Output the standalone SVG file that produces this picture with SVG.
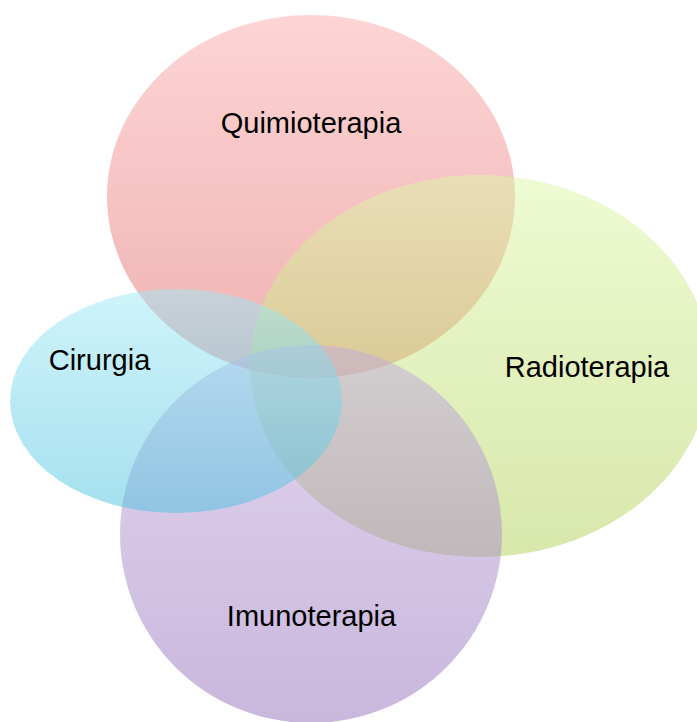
<svg xmlns="http://www.w3.org/2000/svg" width="697" height="722" viewBox="0 0 697 722">
<style>
.set{fill-opacity:0.5;stroke:none}
.lbl{font-family:"Liberation Sans",Arial,sans-serif;font-size:29px;fill:#000;text-anchor:middle}
</style>
<defs>
<linearGradient id="gRed" x1="0" y1="0" x2="0" y2="1"><stop offset="0" stop-color="#fbaaaa"/><stop offset="1" stop-color="#df6464"/></linearGradient>
<linearGradient id="gGreen" x1="0" y1="0" x2="0" y2="1"><stop offset="0" stop-color="#ddf7a7"/><stop offset="1" stop-color="#b1cf55"/></linearGradient>
<linearGradient id="gPurple" x1="0" y1="0" x2="0" y2="1"><stop offset="0" stop-color="#c3abdf"/><stop offset="1" stop-color="#936fba"/></linearGradient>
<linearGradient id="gCyan" x1="0" y1="0" x2="0" y2="1"><stop offset="0" stop-color="#9fe9f7"/><stop offset="1" stop-color="#4bc1dd"/></linearGradient>
</defs>
<rect width="697" height="722" fill="#fff"/>
<g id="quimioterapia">
<ellipse class="set" cx="311" cy="196.5" rx="204" ry="181.5" fill="url(#gRed)"/>
</g>
<g id="radioterapia">
<ellipse class="set" cx="480" cy="366" rx="230" ry="191" fill="url(#gGreen)"/>
</g>
<g id="imunoterapia">
<ellipse class="set" cx="311" cy="534" rx="191" ry="189" fill="url(#gPurple)"/>
</g>
<g id="cirurgia">
<ellipse class="set" cx="176" cy="401" rx="166" ry="112" fill="url(#gCyan)"/>
</g>
<g id="labels">
<text class="lbl" x="311" y="133">Quimioterapia</text>
<text class="lbl" x="587" y="377">Radioterapia</text>
<text class="lbl" x="99.5" y="370">Cirurgia</text>
<text class="lbl" x="311.5" y="626">Imunoterapia</text>
</g>
<g id="connectors"></g>
</svg>
